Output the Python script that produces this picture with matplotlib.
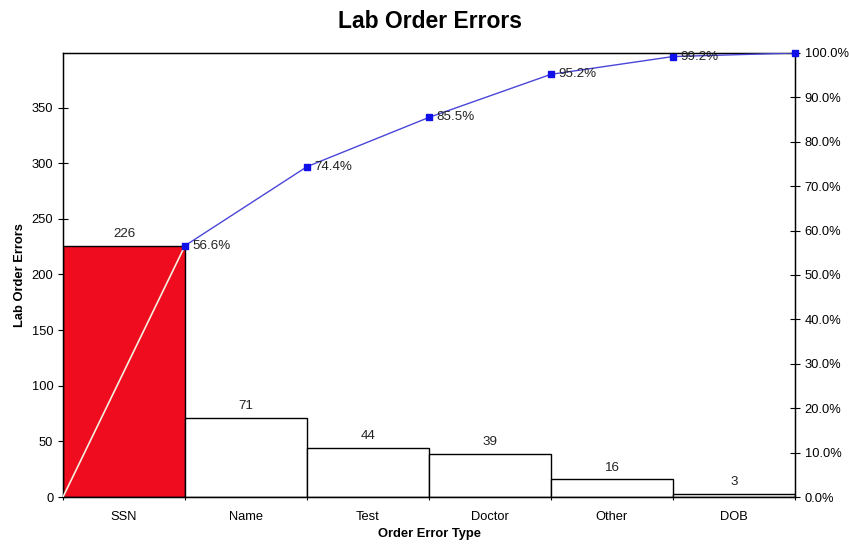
import matplotlib
matplotlib.use("Agg")
import matplotlib.pyplot as plt
import numpy as np

plt.rcParams['font.family'] = ['Liberation Sans', 'DejaVu Sans']

categories = ["SSN", "Name", "Test", "Doctor", "Other", "DOB"]
counts = [226, 71, 44, 39, 16, 3]
cum_pct = [56.6, 74.4, 85.5, 95.2, 99.2, 100.0]
left_ticks = [0, 50, 100, 150, 200, 250, 300, 350]
right_ticks = [0, 10, 20, 30, 40, 50, 60, 70, 80, 90, 100]

total = sum(counts)
n = len(categories)
fs = 9.3

fig = plt.figure(figsize=(8.49, 5.44), dpi=100)
ax = fig.add_axes([63/849, 1-497/544, (795-63)/849, (497-53)/544])

x = np.arange(n)
colors = ["#EE0C1E"] + ["white"] * (n - 1)
ax.bar(x, counts, width=1.0, color=colors, edgecolor="black", linewidth=1.0, zorder=2)
for xi, c in zip(x, counts):
    ax.text(xi, c + 5, str(c), ha="center", va="bottom", fontsize=9.6, color="#222222")

ax.set_xlim(-0.5, n - 0.5)
ax.set_ylim(0, total)
ax.set_yticks(left_ticks)
ax.set_xticks(np.arange(n + 1) - 0.5, minor=True)
ax.set_xticks(x)
ax.set_xticklabels(categories, fontsize=fs)
ax.tick_params(axis="x", which="major", length=0, pad=10)
ax.tick_params(axis="x", which="minor", length=4, direction="inout", width=0.8)
ax.tick_params(axis="y", direction="inout", length=7, width=0.8, labelsize=fs)
for s in ax.spines.values():
    s.set_linewidth(1.0)
ax.set_xlabel("Order Error Type", fontsize=fs, fontweight="bold", labelpad=4)
ax.set_ylabel("Lab Order Errors", fontsize=fs, fontweight="bold", labelpad=4)

ax2 = ax.twinx()
ax2.set_ylim(0, 100)
ax2.set_yticks(right_ticks)
ax2.set_yticklabels([f"{v:.1f}%" for v in right_ticks])
ax2.tick_params(axis="y", direction="inout", length=7, width=0.8, labelsize=fs)
ax2.set_xlim(-0.5, n - 0.5)

px = x + 0.5
# first segment from origin (white over red bar)
ax2.plot([-0.5, px[0]], [0, cum_pct[0]], color="#F4F0E0", linewidth=1.2, zorder=3)
ax2.plot(px, cum_pct, color="#4A46D8", linewidth=1.0, zorder=3)
ax2.plot(px, cum_pct, linestyle="none", marker="s", markersize=4.5,
         color="#1010E8", zorder=4, clip_on=False)
for xx, v in zip(px[:-1], cum_pct[:-1]):
    ax2.text(xx + 0.06, v, f"{v:.1f}%", ha="left", va="center", fontsize=9.6, color="#222222")

fig.text(430/849, 1-21/544, "Lab Order Errors", ha="center", va="center",
         fontsize=16.5, fontweight="bold")

fig.savefig("out.png", dpi=100)
